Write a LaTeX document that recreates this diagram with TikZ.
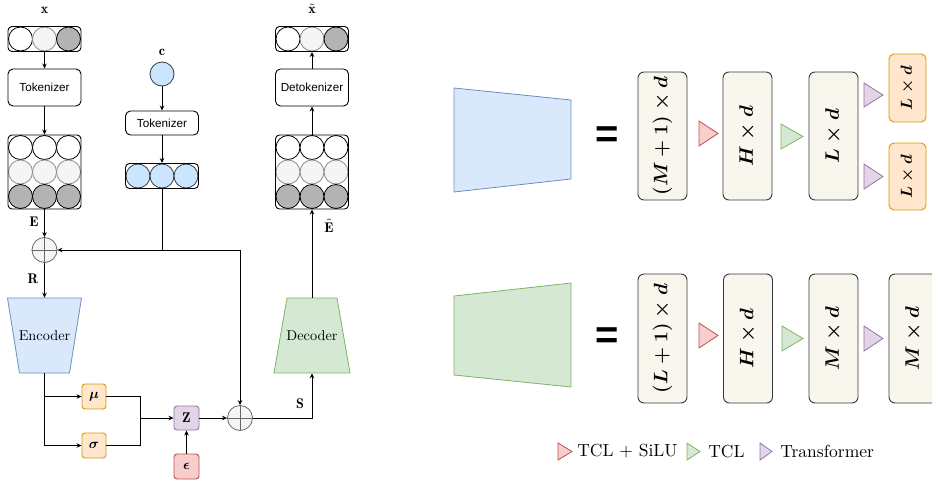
\RequirePackage{fix-cm}
\documentclass[tikz,border=0pt]{standalone}
\usepackage{amsmath,bm}
\usepackage{fontspec}
\newfontfamily\helv{Liberation Sans}
\usetikzlibrary{arrows.meta}
\definecolor{grayln}{HTML}{8C8C8C}
\definecolor{grayf}{HTML}{F5F5F5}
\definecolor{graydk}{HTML}{B3B3B3}
\definecolor{bluef}{HTML}{CCE5FF}
\definecolor{darkln}{HTML}{36393D}
\definecolor{plusd}{HTML}{666666}
\definecolor{encf}{HTML}{DAE8FC}
\definecolor{encd}{HTML}{6C8EBF}
\definecolor{decf}{HTML}{D5E8D4}
\definecolor{decd}{HTML}{82B366}
\definecolor{orf}{HTML}{FFE6CC}
\definecolor{ord}{HTML}{D79B00}
\definecolor{puf}{HTML}{E1D5E7}
\definecolor{pud}{HTML}{9673A6}
\definecolor{ref}{HTML}{F8CECC}
\definecolor{red}{HTML}{B85450}
\definecolor{boxf}{HTML}{F9F7ED}
\tikzset{
 lbl/.style={font=\fontsize{10}{12}\selectfont, scale=1.4, inner sep=0},
 cont/.style={draw=black, rounded corners=4pt, line width=0.9pt, minimum width=73pt, inner sep=0},
 tokbox/.style={draw=black, fill=white, rounded corners=5pt, line width=0.9pt, minimum width=73pt, inner sep=0, font=\helv\fontsize{11.7}{13}\selectfont},
 cw/.style={circle, draw=black, fill=white, minimum size=24pt, inner sep=0, line width=0.8pt},
 cl/.style={draw=grayln, fill=grayf},
 cd/.style={fill=graydk},
 cb/.style={fill=bluef, draw=darkln},
 plusn/.style={circle, draw=plusd, fill=grayf, minimum size=25pt, inner sep=0, line width=0.8pt},
 sbox/.style={draw, rounded corners=3pt, minimum width=24pt, minimum height=25pt, inner sep=0, line width=0.9pt, font=\fontsize{14}{16}\selectfont},
 bigbox/.style={draw=darkln, fill=boxf, rounded corners=6pt, line width=0.9pt, inner sep=0, rotate=90, minimum height=49pt, font=\fontsize{19.5}{22}\selectfont\boldmath},
 smallbox/.style={draw=ord, fill=orf, rounded corners=5pt, line width=0.9pt, inner sep=0, rotate=90, minimum height=37pt, font=\fontsize{16}{18}\selectfont\boldmath},
 coder/.style={inner sep=0, scale=1.43, minimum height=52.4pt, minimum width=35pt, font=\fontsize{10}{12}\selectfont},
 arr/.style={-{Stealth[length=5pt,width=4.5pt]}, line width=0.9pt},
 ln/.style={line width=0.9pt},
 eqs/.style={font=\helv\bfseries\fontsize{40}{40}\selectfont, inner sep=0},
 legt/.style={anchor=west, inner sep=0, scale=1.75, font=\fontsize{10}{12}\selectfont},
 trired/.style={fill=ref, draw=red, line width=0.8pt},
 trigreen/.style={fill=decf, draw=decd, line width=0.8pt},
 tripurple/.style={fill=puf, draw=pud, line width=0.8pt},
}
\newcommand\tokrow[6]{%
 \node[cw,#4] at (#2-24,#3) {};
 \node[cw,#5] at (#2,#3) {};
 \node[cw,#6] at (#2+24,#3) {};
 \node[cont, minimum height=25pt] (#1) at (#2,#3) {};}
\newcommand\tokgrid[3]{%
 \foreach \xx in {-24,0,24}{
  \node[cw] at (#2+\xx,#3-24.5) {};
  \node[cw,cl] at (#2+\xx,#3) {};
  \node[cw,cd] at (#2+\xx,#3+24.5) {};}
 \node[cont, minimum height=74pt] (#1) at (#2,#3) {};}
\begin{document}
\begin{tikzpicture}[x=1pt,y=-1pt]
\useasboundingbox (0,0) rectangle (932,482);
% ---------- left: input path ----------
\node[lbl] (xl) at (44.5,10) {$\mathbf{x}$};
\tokrow{xr}{44.5}{39}{}{cl}{cd}
\node[tokbox, minimum height=37pt] (tok1) at (44.5,87.5) {Tokenizer};
\tokgrid{g1}{44.5}{172}
\node[lbl] (El) at (34,222) {$\mathbf{E}$};
\node[plusn] (p1) at (44.5,250) {};
\draw[plusd, line width=0.6pt] (p1.north) -- (p1.south) (p1.east) -- (p1.west);
\node[lbl] (Rl) at (33,279) {$\mathbf{R}$};
\filldraw[fill=encf, draw=encd, line width=0.8pt] (7.5,298) -- (81.5,298) -- (69.5,373) -- (19.5,373) -- cycle;
\node[coder] (enc) at (44.5,335.5) {Encoder};
\node[sbox, draw=ord, fill=orf] (mu) at (94,396.5) {$\bm{\mu}$};
\node[sbox, draw=ord, fill=orf] (sig) at (94,445.5) {$\bm{\sigma}$};
\coordinate (jt) at (140,396.5);
\coordinate (jb) at (140,445.5);
\coordinate (jn) at (140,418);
\node[sbox, draw=pud, fill=puf, minimum width=25pt, minimum height=24pt] (z) at (186.5,418) {$\mathbf{Z}$};
\node[sbox, draw=red, fill=ref, minimum width=25pt] (eps) at (186.5,466.5) {$\bm{\epsilon}$};
\node[plusn] (p2) at (240,418) {};
\draw[plusd, line width=0.6pt] (p2.north) -- (p2.south) (p2.east) -- (p2.west);
\node[lbl] (Sl) at (300,404) {$\mathbf{S}$};
% ---------- condition path ----------
\node[lbl] (cl) at (162,52) {$\mathbf{c}$};
\node[cw,cb] (cc) at (162,74) {};
\node[tokbox, minimum height=24pt] (tok2) at (162,123) {Tokenizer};
\tokrow{cr}{162}{176}{cb}{cb}{cb}
\coordinate (cj) at (162,250);
% ---------- decoder path ----------
\filldraw[fill=decf, draw=decd, line width=0.8pt] (287,298) -- (337,298) -- (350,373) -- (274,373) -- cycle;
\node[coder] (dec) at (312,335.5) {Decoder};
\tokgrid{g2}{312}{172}
\node[lbl] (Etl) at (329,226) {$\tilde{\mathbf{E}}$};
\node[tokbox, minimum height=37pt] (detok) at (312,87.5) {Detokenizer};
\tokrow{xr2}{312}{39}{}{cl}{cd}
\node[lbl] (xtl) at (312,9) {$\tilde{\mathbf{x}}$};
% ---------- connectors ----------
\draw[arr] (xr.south) -- (tok1.north);
\draw[arr] (tok1.south) -- (g1.north);
\draw[arr] (g1.south) -- (p1.north);
\draw[arr] (p1.south) -- (enc.north);
\draw[arr] (enc.south) |- (mu.west);
\draw[arr] (enc.south) |- (sig.west);
\draw[ln] (mu.east) -- (jt) -- (jb) -- (sig.east);
\draw[arr] (jn) -- (z.west);
\draw[arr] (eps.north) -- (z.south);
\draw[arr] (z.east) -- (p2.west);
\draw[arr] (p2.east) -| (dec.south);
\draw[arr] (dec.north) -- (g2.south);
\draw[arr] (g2.north) -- (detok.south);
\draw[arr] (detok.north) -- (xr2.south);
\draw[arr] (cc.south) -- (tok2.north);
\draw[arr] (tok2.south) -- (cr.north);
\draw[ln] (cr.south) -- (cj);
\draw[arr] (cj) -- (p1.east);
\draw[arr] (cj) -| (p2.north);
% ---------- right: encoder ----------
\filldraw[fill=encf, draw=encd, line width=0.8pt] (454,88) -- (571,100) -- (571,179) -- (454,192) -- cycle;
\node[eqs] (eq1) at (607,137) {=};
\node[bigbox, minimum width=128pt] (e1) at (662.5,136) {$(M+1)\times d$};
\filldraw[trired] (699,121) -- (718,133.5) -- (699,146) -- cycle;
\node[bigbox, minimum width=128pt] (e2) at (747.5,136) {$H\times d$};
\filldraw[trigreen] (781,124) -- (803,136.5) -- (781,149) -- cycle;
\node[bigbox, minimum width=128pt] (e3) at (833.5,136) {$L\times d$};
\filldraw[tripurple] (864,83) -- (883,95) -- (864,107) -- cycle;
\filldraw[tripurple] (864,164) -- (883,176.5) -- (864,189) -- cycle;
\node[smallbox, minimum width=68pt] (e4) at (907.5,88) {$L\times d$};
\node[smallbox, minimum width=67pt] (e5) at (907.5,176.5) {$L\times d$};
% ---------- right: decoder ----------
\filldraw[fill=decf, draw=decd, line width=0.8pt] (454,296) -- (571,283) -- (571,387) -- (454,375) -- cycle;
\node[eqs] (eq2) at (607,338) {=};
\node[bigbox, minimum width=129pt] (d1) at (662.5,338.5) {$(L+1)\times d$};
\filldraw[trired] (699,323) -- (718,335.5) -- (699,348) -- cycle;
\node[bigbox, minimum width=129pt] (d2) at (748,338.5) {$H\times d$};
\filldraw[trigreen] (782,326) -- (803,338.5) -- (782,351) -- cycle;
\node[bigbox, minimum width=129pt] (d3) at (833.5,338.5) {$M\times d$};
\filldraw[tripurple] (864,326) -- (883,338.5) -- (864,351) -- cycle;
\node[bigbox, minimum width=129pt] (d4) at (913.5,338.5) {$M\times d$};
% ---------- legend ----------
\filldraw[trired] (558,443) -- (572,451.5) -- (558,460) -- cycle;
\node[legt] (lg1) at (577,451.5) {TCL $+$ SiLU};
\filldraw[trigreen] (687,443) -- (700,451.5) -- (687,460) -- cycle;
\node[legt] (lg2) at (708,451.5) {TCL};
\filldraw[tripurple] (760,443) -- (772,451.5) -- (760,460) -- cycle;
\node[legt] (lg3) at (780,451.5) {Transformer};
\end{tikzpicture}
\end{document}
